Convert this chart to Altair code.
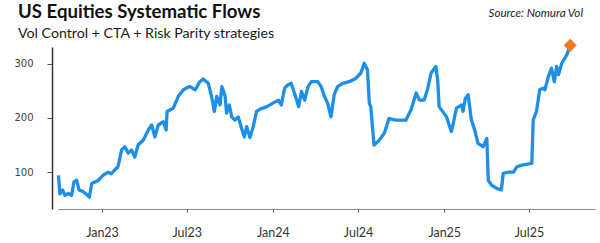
import altair as alt
import pandas as pd

dates = [
    "2022-09-30", "2022-10-03", "2022-10-09", "2022-10-14", "2022-10-21", "2022-10-28",
    "2022-11-02", "2022-11-08", "2022-11-13", "2022-11-22", "2022-11-29", "2022-12-05",
    "2022-12-10", "2022-12-17", "2022-12-24", "2023-01-03", "2023-01-14", "2023-01-21",
    "2023-01-28", "2023-02-04", "2023-02-12", "2023-02-19", "2023-02-26", "2023-03-05",
    "2023-03-12", "2023-03-19", "2023-03-30", "2023-04-10", "2023-04-17", "2023-04-24",
    "2023-05-01", "2023-05-12", "2023-05-18", "2023-05-20", "2023-06-02", "2023-06-13",
    "2023-06-24", "2023-07-04", "2023-07-08", "2023-07-19", "2023-07-29", "2023-08-05",
    "2023-08-16", "2023-08-23", "2023-08-29", "2023-09-03", "2023-09-10", "2023-09-14",
    "2023-09-21", "2023-09-24", "2023-09-30", "2023-10-05", "2023-10-12", "2023-10-19",
    "2023-10-26", "2023-11-01", "2023-11-06", "2023-11-13", "2023-11-20", "2023-11-27",
    "2023-12-04", "2023-12-19", "2023-12-31", "2024-01-13", "2024-01-19", "2024-01-26",
    "2024-02-02", "2024-02-09", "2024-02-16", "2024-02-25", "2024-03-02", "2024-03-09",
    "2024-03-16", "2024-03-23", "2024-04-06", "2024-04-13", "2024-04-20", "2024-04-27",
    "2024-05-04", "2024-05-11", "2024-05-18", "2024-05-29", "2024-06-12", "2024-06-26",
    "2024-07-07", "2024-07-14", "2024-07-21", "2024-07-25", "2024-07-28", "2024-08-04",
    "2024-08-15", "2024-08-26", "2024-09-05", "2024-09-20", "2024-10-11", "2024-10-22",
    "2024-11-02", "2024-11-09", "2024-11-19", "2024-11-26", "2024-12-04", "2024-12-14",
    "2024-12-18", "2024-12-21", "2025-01-06", "2025-01-16", "2025-01-19", "2025-01-27",
    "2025-02-07", "2025-02-10", "2025-02-15", "2025-02-21", "2025-02-28", "2025-03-07",
    "2025-03-14", "2025-03-25", "2025-04-02", "2025-04-05", "2025-04-12", "2025-04-23",
    "2025-05-03", "2025-05-07", "2025-05-18", "2025-05-29", "2025-06-05", "2025-06-16",
    "2025-07-07", "2025-07-10", "2025-07-17", "2025-07-24", "2025-07-31", "2025-08-04",
    "2025-08-11", "2025-08-18", "2025-08-24", "2025-08-29", "2025-09-02", "2025-09-09",
    "2025-09-20", "2025-09-27",
]
flows = [
    94, 60, 67, 57, 61, 57,
    82, 85, 67, 64, 59, 54,
    79, 82, 85, 94, 100, 97,
    104, 110, 141, 147, 135, 141,
    128, 150, 159, 178, 187, 165,
    187, 193, 178, 212, 218, 240,
    252, 257, 258, 252, 267, 272,
    264, 240, 212, 240, 224, 258,
    240, 209, 224, 202, 196, 202,
    181, 165, 184, 164, 184, 212,
    216, 221, 227, 233, 224, 255,
    261, 264, 246, 221, 249, 233,
    258, 267, 267, 258, 240, 227,
    202, 243, 258, 264, 267, 273,
    283, 301, 289, 227, 221, 150,
    159, 172, 199, 196, 196, 215,
    246, 233, 233, 252, 283, 295,
    270, 221, 202, 175, 185, 218,
    224, 212, 236, 243, 196, 178,
    153, 147, 162, 85, 76, 70,
    67, 98, 100, 100, 110, 113,
    116, 196, 212, 252, 255, 252,
    276, 292, 267, 295, 280, 301,
    317, 334,
]

x_domain = ["2022-09-29", "2025-11-19"]
y_domain = [32, 331]
y_ticks = [100, 200, 300]
x_ticks = ["2023-01-01", "2023-07-01", "2024-01-01", "2024-07-01", "2025-01-01", "2025-07-01"]

title_text = "US Equities Systematic Flows"
subtitle_text = "Vol Control + CTA + Risk Parity strategies"
source_text = "Source: Nomura Vol"

df = pd.DataFrame({"date": pd.to_datetime(dates), "value": flows})
last = df.tail(1)

x_enc = alt.X(
    "date:T",
    scale=alt.Scale(domain=x_domain),
    axis=alt.Axis(
        values=x_ticks, format="%b%y", title=None, grid=False,
        domainColor="#8a8a8a", domainWidth=1.2, tickColor="#555555", tickSize=3,
        labelFont="Lato", labelFontSize=12.5, labelColor="#333333", labelPadding=14,
    ),
)
y_enc = alt.Y(
    "value:Q",
    scale=alt.Scale(domain=y_domain, nice=False, zero=False),
    axis=alt.Axis(
        values=y_ticks, title=None, grid=False, offset=6,
        domainColor="#333333", domainWidth=1.5, tickColor="#555555", tickSize=5,
        labelFont="DejaVu Sans", labelFontSize=10, labelColor="#444444", labelPadding=14,
    ),
)

line = alt.Chart(df).mark_line(color="#1E8FE8", strokeWidth=3.3, strokeJoin="round").encode(
    x=x_enc, y=y_enc
)
diamond = alt.Chart(last).mark_point(
    shape="diamond", filled=True, color="#F27A1E", size=170, opacity=1
).encode(x="date:T", y="value:Q")


def label(txt, x, y, **kw):
    return alt.Chart(pd.DataFrame({"t": [txt]})).mark_text(
        baseline="alphabetic", **kw
    ).encode(x=alt.value(x), y=alt.value(y), text="t:N")


title = label(title_text, -40, -29, font="Lato", fontSize=18.6, fontWeight="bold",
              color="#111111", align="left")
subtitle = label(subtitle_text, -40, -9, font="Lato", fontSize=14.2, color="#1a1a1a",
                 align="left")
source = label(source_text, 525, -30, font="Lato", fontStyle="italic", fontSize=11.6,
               color="#222222", align="right")

chart = alt.layer(line, diamond, title, subtitle, source).properties(
    width=537,
    height=162,
    autosize=alt.AutoSizeParams(type="none"),
    padding={"left": 58, "top": 47, "right": 5, "bottom": 34},
).configure_view(stroke=None)

chart.save("out.html", embed_options={"renderer": "svg", "actions": False})
